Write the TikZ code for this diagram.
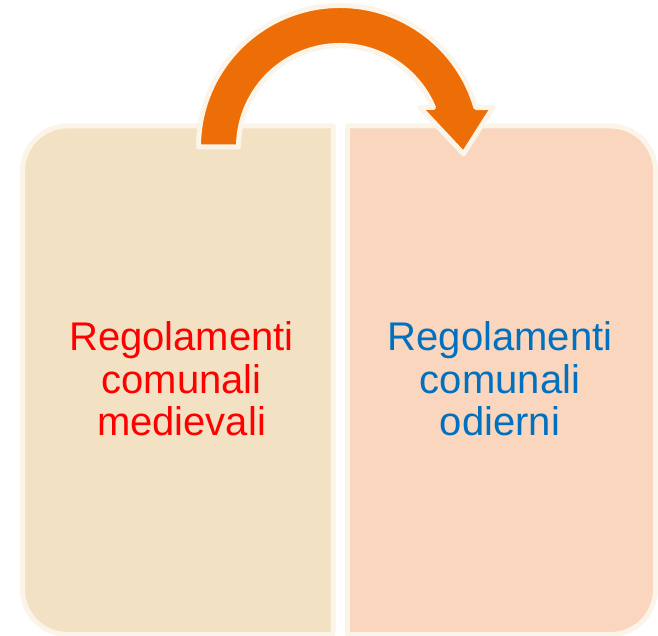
\documentclass[tikz,border=0pt]{standalone}
\usepackage{fontspec}
\setmainfont{Liberation Sans}
\definecolor{cream}{HTML}{FBF4E9}
\definecolor{leftfill}{HTML}{F3E1C3}
\definecolor{rightfill}{HTML}{F9D6BD}
\definecolor{arroworange}{HTML}{ED6D06}
\definecolor{bluetext}{HTML}{0070C0}
\tikzset{
  box/.style={draw=cream,line width=5pt,line join=round},
  label/.style={align=center,inner sep=0pt,font=\fontsize{40}{42.5}\selectfont}
}
\begin{document}
\begin{tikzpicture}[x=1pt,y=1pt]
\useasboundingbox (0,0) rectangle (658,636);

%left box
\filldraw[box,fill=leftfill] (333,510) -- (67.5,510) arc[start angle=90,end angle=180,radius=45]
  -- (22.5,46.5) arc[start angle=180,end angle=270,radius=45] -- (333,1.5) -- cycle;
%right box
\filldraw[box,fill=rightfill] (347.5,510) -- (610.5,510) arc[start angle=90,end angle=0,radius=45]
  -- (655.5,46.5) arc[start angle=0,end angle=-90,radius=45] -- (347.5,1.5) -- cycle;

%arrow
\filldraw[box,fill=arroworange] (198.5,489) arc[start angle=180,end angle=16.2,radius=141.5]
  -- (493,528.5) -- (463.5,482) -- (420,528.5) -- (433.5,528.5)
  arc[start angle=22.9,end angle=180,radius=101.5] -- cycle;

%texts
\node[label,red] (medievali) at (181.5,257) {Regolamenti\\comunali\\medievali};
\node[label,bluetext] (odierni) at (500,257) {Regolamenti\\comunali\\odierni};

\end{tikzpicture}
\end{document}
